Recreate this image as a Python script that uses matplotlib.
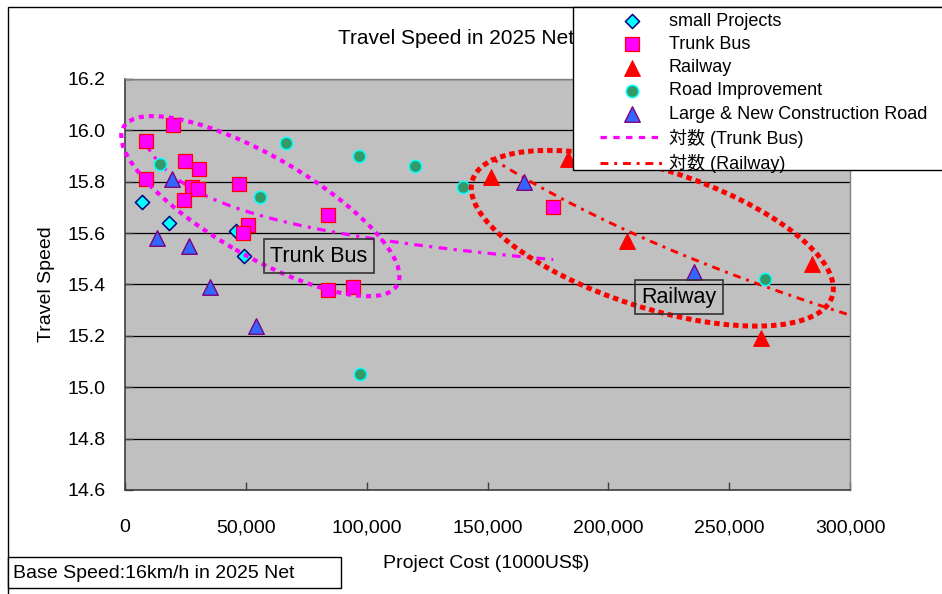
import numpy as np
import matplotlib
matplotlib.use("Agg")
import matplotlib.pyplot as plt
from matplotlib.patches import Ellipse, Rectangle
from matplotlib.lines import Line2D
from matplotlib.transforms import ScaledTranslation
from matplotlib.ticker import FuncFormatter, MultipleLocator

plt.rcParams['font.family'] = ['Liberation Sans', 'Noto Sans CJK JP', 'DejaVu Sans']

# data (x: project cost 1000US$, y: travel speed)
small_x = [7000, 18300, 46000, 49400]
small_y = [15.72, 15.64, 15.61, 15.51]

trunk_x = [19900, 8700, 24900, 30700, 8700, 27800, 30300, 24500, 47300,
           51000, 49000, 83800, 83800, 94200, 177200]
trunk_y = [16.02, 15.96, 15.88, 15.85, 15.81, 15.78, 15.77, 15.73, 15.79,
           15.63, 15.60, 15.67, 15.38, 15.39, 15.70]

rail_x = [151400, 183400, 207900, 284200, 263000]
rail_y = [15.82, 15.89, 15.57, 15.48, 15.19]

road_x = [14400, 66700, 56000, 96700, 119900, 139700, 264800, 97400]
road_y = [15.87, 15.95, 15.74, 15.90, 15.86, 15.78, 15.42, 15.05]

large_x = [19600, 13300, 26600, 35100, 54200, 165100, 235400]
large_y = [15.81, 15.58, 15.55, 15.39, 15.24, 15.80, 15.45]

W, H = 942, 594


def fx(px):
    return px / W


def fy(py):
    return 1 - py / H


fig = plt.figure(figsize=(W / 100, H / 100), dpi=100)
fig.patch.set_facecolor('white')

# chart border
fig.add_artist(Rectangle((fx(7.5), -0.1), 1.2, fy(6.7) + 0.1, transform=fig.transFigure,
                         facecolor='none', edgecolor='black', lw=1, zorder=0))

ax = fig.add_axes([fx(125), fy(490), (850 - 125) / W, (490 - 79) / H])
ax.set_facecolor('#C0C0C0')
ax.set_xlim(0, 300000)
ax.set_ylim(14.6, 16.2)
ax.yaxis.set_major_locator(MultipleLocator(0.2))
ax.xaxis.set_major_locator(MultipleLocator(50000))
ax.yaxis.set_major_formatter(FuncFormatter(lambda v, p: f'{v:.1f}'))
ax.xaxis.set_major_formatter(FuncFormatter(lambda v, p: f'{v:,.0f}'))
ax.grid(axis='y', color='black', lw=0.9)
ax.set_axisbelow(True)
ax.tick_params(direction='in', length=6, width=1, labelsize=14, color='#404040')
ax.tick_params(axis='x', pad=21)
ax.tick_params(axis='y', pad=14)
for s in ['left', 'bottom']:
    ax.spines[s].set_color('#404040')
    ax.spines[s].set_linewidth(1.2)
for s in ['top', 'right']:
    ax.spines[s].set_color('#808080')
    ax.spines[s].set_linewidth(1.0)

ax.set_xlabel('Project Cost (1000US$)', fontsize=14)
ax.xaxis.set_label_coords(0.498, -0.158)
ax.set_ylabel('Travel Speed', fontsize=14)
ax.yaxis.set_label_coords(-0.097, 0.5)

# log trendlines
tx = np.array(trunk_x, dtype=float)
a_t, b_t = np.polyfit(np.log(tx), trunk_y, 1)
xt = np.linspace(tx.min(), tx.max(), 200)
ln_trunk, = ax.plot(xt, a_t * np.log(xt) + b_t, color='#FF00FF', lw=2.3,
                    linestyle=(0, (2.7, 2, 1, 2)), zorder=2)

rx = np.array(rail_x, dtype=float)
a_r, b_r = np.polyfit(np.log(rx), rail_y, 1)
xr = np.linspace(rx.min(), 300000, 200)
ln_rail, = ax.plot(xr, a_r * np.log(xr) + b_r, color='#FF0000', lw=2.1,
                   linestyle=(0, (2.7, 2, 1, 2)), zorder=2)

sc_small = ax.scatter(small_x, small_y, marker='D', s=52, facecolor='#00FFFF',
                      edgecolor='#000080', linewidths=1.1, zorder=3)
sc_trunk = ax.scatter(trunk_x, trunk_y, marker='s', s=100, facecolor='#FF00FF',
                      edgecolor='#FF0000', linewidths=0.9, zorder=3)
sc_rail = ax.scatter(rail_x, rail_y, marker='^', s=130, facecolor='#FF0000',
                     edgecolor='#FF0000', linewidths=0.7, zorder=3)
sc_road = ax.scatter(road_x, road_y, marker='o', s=78, facecolor='#339966',
                     edgecolor='#00FFFF', linewidths=1.1, zorder=3)
sc_large = ax.scatter(large_x, large_y, marker='^', s=125, facecolor='#3366FF',
                      edgecolor='#800080', linewidths=1.0, zorder=3)


def ring(cx, cy, w_px, h_px, ang, color, lw, dash):
    tr = fig.dpi_scale_trans + ScaledTranslation(cx, cy, ax.transData)
    e = Ellipse((0, 0), w_px / 100, h_px / 100, angle=ang, transform=tr,
                facecolor='none', edgecolor=color, lw=lw, linestyle=(0, dash),
                clip_on=False, zorder=4)
    e.set_capstyle('butt')
    ax.add_patch(e)


ring(56000, 15.705, 316, 100, -30, '#FF00FF', 3.0, (1.2, 1.2))
ring(218200, 15.580, 378, 138, -18, '#FF0000', 3.6, (1.1, 0.8))

box = dict(boxstyle='square,pad=0.3', facecolor='none', edgecolor='#333333', lw=1.2)
ax.text(60200, 15.51, 'Trunk Bus', fontsize=15.5, ha='left', va='center', bbox=box, zorder=5)
ax.text(213700, 15.35, 'Railway', fontsize=15.5, ha='left', va='center', bbox=box, zorder=5)

# title (partly hidden by the legend)
fig.text(fx(338), fy(38), 'Travel Speed in 2025 Net', fontsize=15, ha='left', va='center', zorder=1)

# legend
fig.add_artist(Rectangle((fx(573), fy(170)), 0.5, fy(6.7) - fy(170), transform=fig.transFigure,
                         facecolor='white', edgecolor='black', lw=1, zorder=4))
handles = [sc_small, sc_trunk, sc_rail, sc_road, sc_large,
           Line2D([], [], color='#FF00FF', lw=2.3, linestyle=(0, (2, 2))),
           Line2D([], [], color='#FF0000', lw=2.1, linestyle=(0, (2.7, 2, 1, 2)))]
labels = ['small Projects', 'Trunk Bus', 'Railway', 'Road Improvement',
          'Large & New Construction Road', '対数 (Trunk Bus)', '対数 (Railway)']
leg = fig.legend(handles, labels, loc='upper left', bbox_to_anchor=(fx(600), fy(13)),
                 frameon=False, fontsize=13, borderpad=0, borderaxespad=0,
                 handlelength=3.5, handletextpad=0.3, labelspacing=0.34,
                 scatterpoints=1)
leg.set_zorder(5)

# base speed note
fig.add_artist(Rectangle((fx(8), fy(588)), (341 - 8) / W, (588 - 557) / H, transform=fig.transFigure,
                         facecolor='white', edgecolor='black', lw=1, zorder=4))
fig.text(fx(13), fy(573), 'Base Speed:16km/h in 2025 Net', fontsize=14, ha='left', va='center', zorder=5)

fig.savefig('out.png', dpi=100)
